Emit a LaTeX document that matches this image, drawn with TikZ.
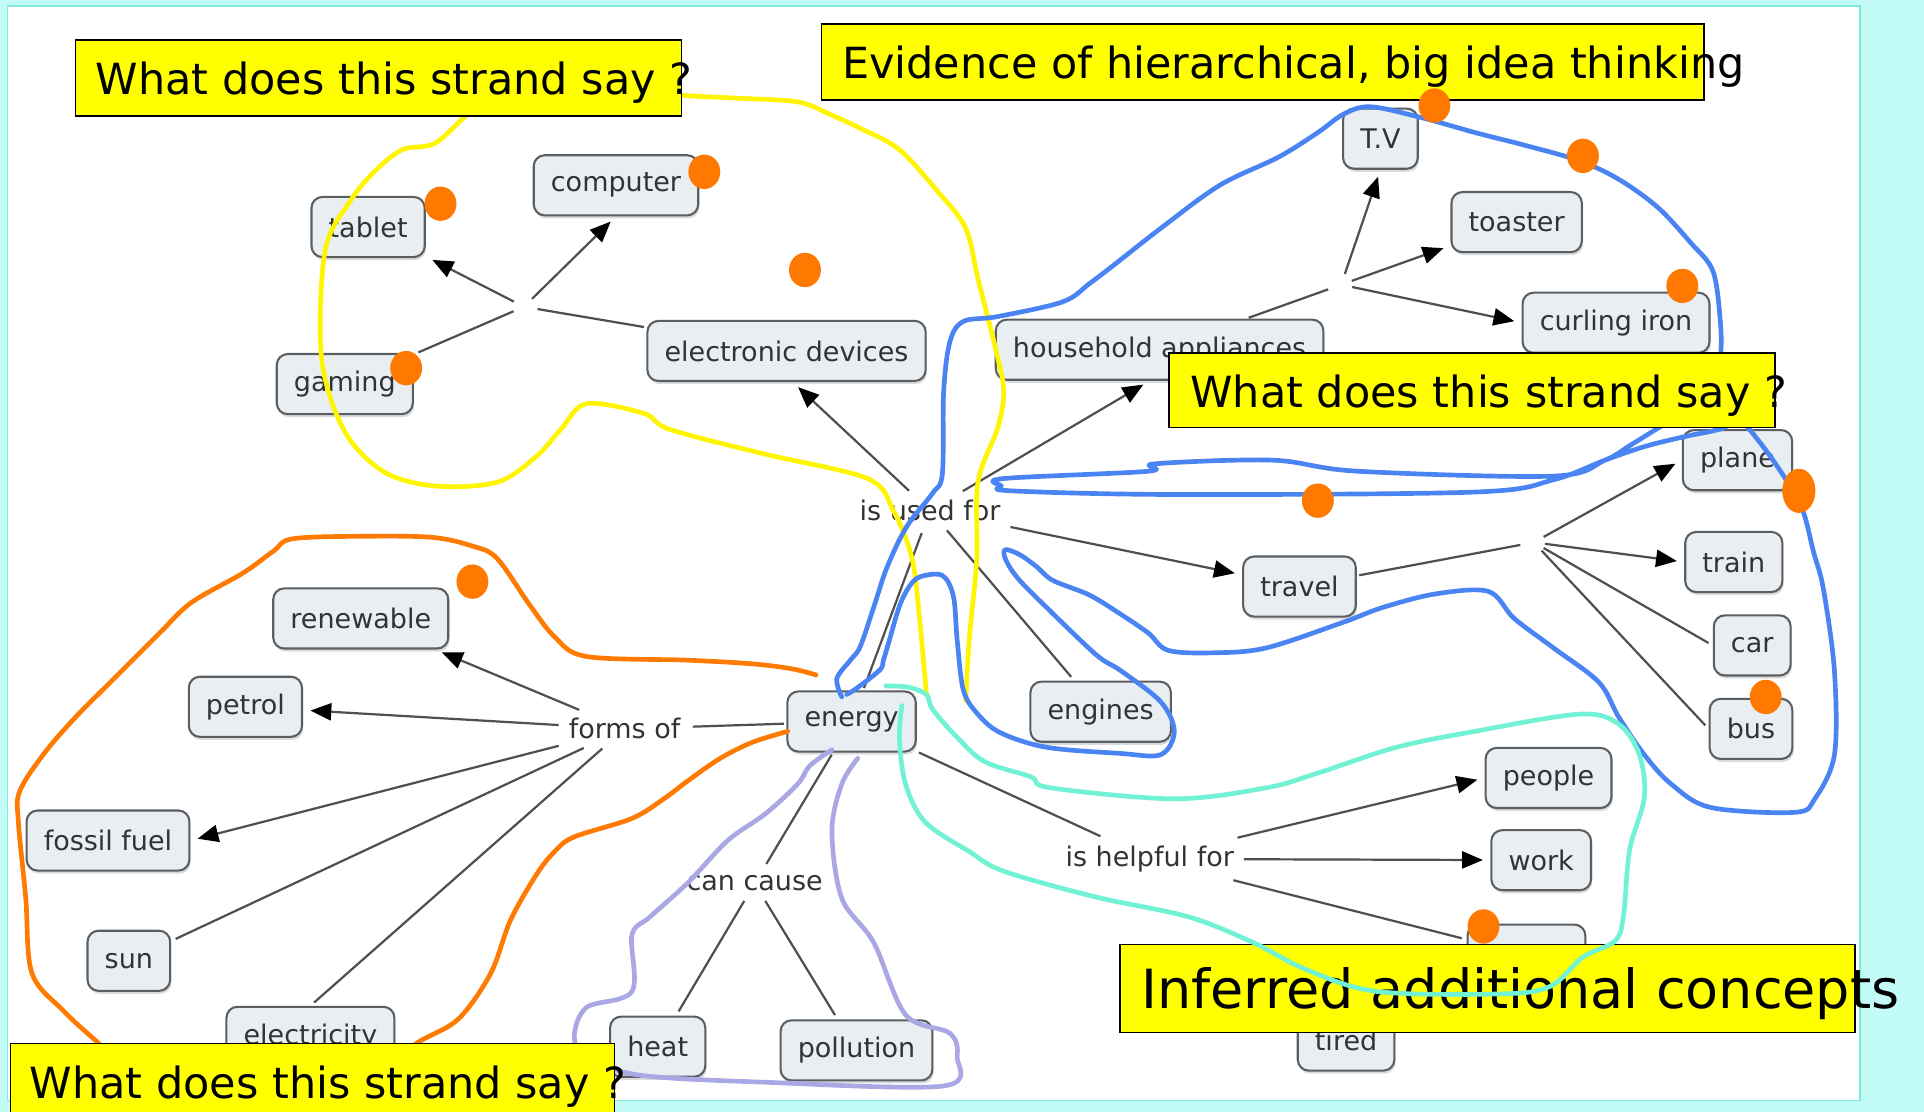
\documentclass[tikz,border=0pt]{standalone}
\usepackage{fontspec}
\setmainfont{DejaVu Sans}
\usetikzlibrary{arrows.meta,shadows,shapes.geometric}

\definecolor{bgcyan}{HTML}{C3FBF6}
\definecolor{panelline}{HTML}{7EEBDD}
\definecolor{cfill}{HTML}{E8EEF2}
\definecolor{cborder}{HTML}{5C5F62}
\definecolor{ctext}{HTML}{333333}
\definecolor{linkgray}{HTML}{4F4F4F}
\definecolor{hiyellow}{HTML}{FFFF00}
\definecolor{penyellow}{HTML}{FFF500}
\definecolor{penorange}{HTML}{FF7A00}
\definecolor{penblue}{HTML}{4A84F2}
\definecolor{penlilac}{HTML}{A9A8E4}
\definecolor{penteal}{HTML}{72F2D4}
\definecolor{dotorange}{HTML}{FF7800}

\newcommand{\cmapfont}{\fontsize{22}{24}\selectfont}
\newcommand{\noteFont}{\fontsize{35}{40}\selectfont}
\newcommand{\bigNoteFont}{\fontsize{44}{50}\selectfont}

\begin{document}
\begin{tikzpicture}[x=1pt,y=-1pt,
  concept/.style={draw=cborder, fill=cfill, rounded corners=9pt, line width=1.7pt,
    minimum height=49pt, inner xsep=14pt, inner ysep=0pt, text=ctext, font=\cmapfont,
    drop shadow={shadow xshift=1pt, shadow yshift=-2.5pt, opacity=0.28}},
  linkword/.style={text=ctext, font=\cmapfont, inner sep=6pt},
  hub/.style={circle, minimum size=14pt, inner sep=0pt},
  conn/.style={draw=linkgray, line width=1.8pt, shorten <=2pt, shorten >=4pt},
  arr/.style={conn, -{Triangle[length=17pt,width=14pt,black]}, shorten >=6pt},
  notebox/.style={draw=black, fill=hiyellow, line width=1.2pt, anchor=north west, inner sep=0pt},
  notetext/.style={anchor=base west, inner sep=0pt, text=black},
  pen/.style={line width=3.8pt, line cap=round, line join=round, smooth, tension=0.55},
  marker/.style={fill=dotorange, ellipse, minimum width=26pt, minimum height=28pt, inner sep=0pt}
]
\useasboundingbox (0,0) rectangle (1568,906);

% backdrop and white panel
\fill[bgcyan] (0,0) rectangle (1568,906);
\filldraw[fill=white, draw=panelline, line width=1.2pt] (6,5) rectangle (1516,897);

% ---------- concepts ----------
\node[concept] (tablet)    at (300,185) {tablet};
\node[concept] (computer)  at (502,151) {computer};
\node[concept] (gaming)    at (281,313) {gaming};
\node[concept] (elec)      at (641,286) {electronic devices};
\node[concept] (household) at (945,285) {household appliances};
\node[concept] (tv)        at (1125,113) {T.V};
\node[concept] (toaster)   at (1236,181) {toaster};
\node[concept] (curling)   at (1317,263) {curling iron};
\node[concept] (plane)     at (1416,375) {plane};
\node[concept] (train)     at (1413,458) {train};
\node[concept] (car)       at (1428,526) {car};
\node[concept] (bus)       at (1427,594) {bus};
\node[concept] (travel)    at (1059,478) {travel};
\node[concept] (engines)   at (897,580) {engines};
\node[concept] (energy)    at (694,588) {energy};
\node[concept] (renewable) at (294,504) {renewable};
\node[concept] (petrol)    at (200,576) {petrol};
\node[concept] (fossil)    at (88,685) {fossil fuel};
\node[concept] (sun)       at (105,783) {sun};
\node[concept] (electric)  at (253,845) {electricity};
\node[concept] (heat)      at (536,853) {heat};
\node[concept] (pollution) at (698,856) {pollution};
\node[concept] (people)    at (1262,634) {people};
\node[concept] (work)      at (1256,701) {work};
\node[concept, minimum width=96pt] (covered) at (1244,778) {};
\node[concept] (tired)     at (1097,848) {tired};

% ---------- linking phrases ----------
\node[linkword] (usedfor) at (758,416) {is used for};
\node[linkword] (formsof) at (509,594) {forms of};
\node[linkword] (cancause) at (615,720) {can cause};
\node[linkword] (helpful) at (937,700) {is helpful for};
\node[hub] (hubE) at (427,250) {};
\node[hub] (hubH) at (1093,232) {};
\node[hub] (hubT) at (1250,442) {};

% ---------- connections ----------
\draw[conn] (elec) -- (hubE);
\draw[arr]  (hubE) -- (tablet);
\draw[arr]  (hubE) -- (computer.south);
\draw[conn] (hubE) -- (gaming);

\draw[conn] (energy) -- (usedfor);
\draw[arr]  (usedfor) -- ([xshift=5pt]elec.south);
\draw[arr]  (usedfor) -- ([xshift=-8pt]household.south);
\draw[arr]  (usedfor) -- (travel);
\draw[conn] (usedfor) -- (engines);

\draw[conn] (household) -- (hubH);
\draw[arr]  (hubH) -- (tv.south);
\draw[arr]  (hubH) -- (toaster);
\draw[arr]  (hubH) -- (curling.west);

\draw[conn] (travel) -- (hubT);
\draw[arr]  (hubT) -- (plane.west);
\draw[arr]  (hubT) -- (train.west);
\draw[conn] (hubT) -- (car.west);
\draw[conn] (hubT) -- (bus.west);

\draw[conn] (energy) -- (formsof);
\draw[arr]  (formsof) -- (renewable);
\draw[arr]  (formsof) -- (petrol);
\draw[arr]  (formsof) -- (fossil.east);
\draw[conn] (formsof) -- (sun);
\draw[conn] (formsof) -- (electric.north);

\draw[conn] (energy) -- (cancause);
\draw[conn] (cancause) -- (heat);
\draw[conn] (cancause) -- (pollution);

\draw[conn] (energy) -- (helpful);
\draw[arr]  (helpful) -- (people.west);
\draw[arr]  (helpful) -- (work);
\draw[conn] (helpful) -- (covered);

% ---------- hand-drawn strands ----------
% yellow: electronic devices strand
\draw[pen, penyellow] plot coordinates {
  (787,571) (790,520) (796,456) (797,393) (813,349) (818,320) (813,291)
  (797,227) (787,186) (765,157) (733,122) (702,105) (676,93) (650,83)
  (600,80) (560,78) (470,72) (390,88) (378,96) (354,117) (328,122)
  (306,139) (286,163) (265,204) (262,291) (280,350) (312,384) (354,396)
  (405,393) (437,372) (457,350) (478,329) (525,337) (546,350) (623,370)
  (707,390) (728,416) (743,454) (749,500) (755,566)};

% orange: forms of strand
\draw[pen, penorange] plot coordinates {
  (642,596) (613,605) (587,618) (561,636) (541,651) (515,667) (468,682)
  (452,694) (437,713) (416,750) (400,793) (374,830) (343,848) (300,872)
  (180,880) (100,866) (78,848) (52,824) (26,793) (21,732) (15,670)
  (16,645) (36,614) (62,584) (93,553) (130,516) (156,491) (198,467)
  (223,449) (239,439) (300,437) (353,438) (385,445) (405,455) (431,492)
  (452,519) (478,535) (560,538) (613,541) (645,545) (665,550)};

% blue: uses of energy strand
\draw[pen, penblue] plot coordinates {
  (686,568) (682,553) (693,538) (701,527) (712,495) (723,462) (739,429)
  (760,402) (768,386) (769,320) (774,279) (785,262) (813,258) (866,246)
  (888,231) (909,215) (946,186) (994,151) (1042,128) (1074,108) (1095,93)
  (1117,87) (1159,96) (1202,108) (1245,119) (1287,131) (1319,146)
  (1351,169) (1378,198) (1396,221) (1402,262) (1402,291) (1395,318)
  (1372,336) (1351,349) (1330,362) (1308,375) (1266,388) (1106,384)
  (1037,375) (941,378) (936,384) (818,390) (816,396) (824,400) (957,403)
  (1202,401) (1266,391) (1308,375) (1340,364) (1372,356) (1404,349)
  (1415,340) (1425,349) (1447,378) (1468,413) (1478,450) (1486,480)
  (1495,547) (1495,615) (1479,651) (1463,662) (1394,658) (1362,639)
  (1340,615) (1319,584) (1303,556) (1266,528) (1234,504) (1213,482)
  (1170,484) (1127,495) (1095,507) (1032,528) (989,532) (952,530)
  (936,516) (914,501) (888,485) (858,473) (845,462) (831,452) (819,448)
  (820,457) (831,473) (858,500) (886,527) (899,538) (914,547) (946,572)
  (957,596) (946,615) (913,614) (853,609) (815,597) (796,581) (785,562)
  (780,521) (777,486) (768,469) (750,470) (741,478) (733,494) (725,521)
  (720,538) (717,546) (698,561) (690,566)};

% lilac: can cause strand
\draw[pen, penlilac] plot coordinates {
  (678,611) (660,624) (650,639) (624,663) (593,685) (561,719) (530,747)
  (515,762) (515,808) (478,821) (468,845) (478,861) (520,876) (624,882)
  (769,885) (780,861) (774,842) (738,827) (712,768) (686,732) (678,677)
  (686,639) (699,618)};

% ---------- yellow notes ----------
\node[notebox, minimum width=494pt, minimum height=62pt] (noteA) at (61,32) {};
\node[notetext, font=\noteFont] (noteAtext) at (78,77) {What does this strand say ?};

\node[notebox, minimum width=719pt, minimum height=62pt] (noteB) at (669,19) {};
\node[notetext, font=\noteFont] (noteBtext) at (686,64) {Evidence of hierarchical, big idea thinking};

\node[notebox, minimum width=494pt, minimum height=61pt] (noteC) at (952,287) {};
\node[notetext, font=\noteFont] (noteCtext) at (970,332) {What does this strand say ?};

\node[notebox, minimum width=599pt, minimum height=72pt] (noteD) at (912,769) {};
\node[notetext, font=\bigNoteFont] (noteDtext) at (930,822) {Inferred additional concepts};

\node[notebox, minimum width=492pt, minimum height=62pt] (noteE) at (8,850) {};
\node[notetext, font=\noteFont] (noteEtext) at (24,895) {What does this strand say ?};

% teal: is helpful for strand (over the note)
\draw[pen, penteal] plot coordinates {
  (722,559) (740,560) (755,566) (760,578) (781,602) (803,621) (840,633)
  (856,642) (957,651) (1032,642) (1074,630) (1138,609) (1202,596)
  (1287,582) (1319,590) (1336,615) (1340,650) (1328,693) (1323,747)
  (1316,767) (1290,780) (1263,804) (1222,810) (1122,808) (1064,790)
  (1021,768) (968,747) (893,731) (818,710) (790,694) (754,670) (738,639)
  (733,602) (735,575)};

% ---------- orange markers ----------
\foreach \mx/\my [count=\k] in {359/166, 574/140, 656/220, 331/300, 1169/86, 1290/127,
    1371/233, 1074/408, 1439/568, 385/474, 1209/755}
  \node[marker] (mark\k) at (\mx,\my) {};
\node[marker, minimum width=27pt, minimum height=36pt] (markPlane) at (1466,400) {};

\end{tikzpicture}
\end{document}
